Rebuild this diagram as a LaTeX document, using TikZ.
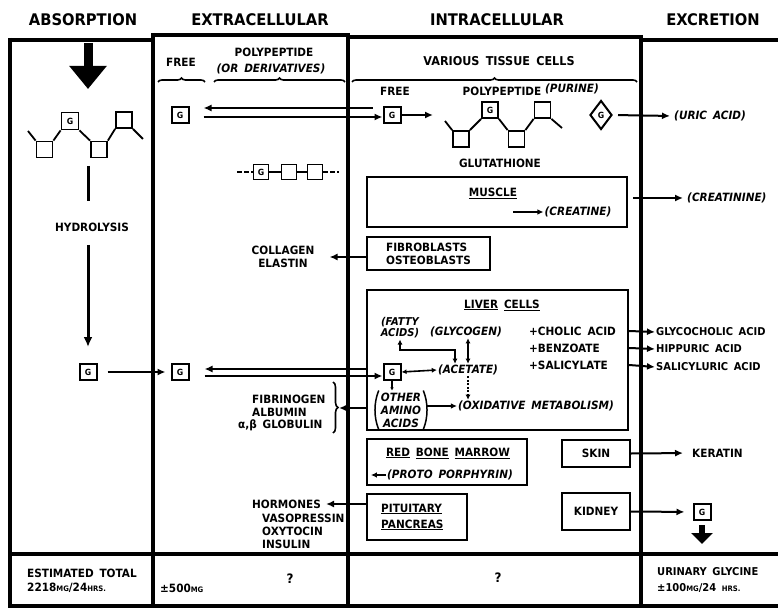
\documentclass[tikz,border=0pt]{standalone}
\usepackage{fontspec}
\setmainfont{DejaVu Sans}[WordSpace=1.6, FakeStretch=0.92]
\usetikzlibrary{arrows.meta,decorations.pathreplacing,shapes.geometric}
\newcommand{\smallcp}[1]{{\fontsize{7.5}{8}\selectfont #1}}
\begin{document}
\begin{tikzpicture}[x=1pt,y=-1pt,
  frm/.style={line width=4pt},
  boxst/.style={draw, line width=2.3pt, inner sep=2pt},
  arr/.style={line width=2pt, -{Latex[length=8pt,width=7pt]}},
  sarr/.style={line width=1.6pt, -{Latex[length=6pt,width=5.5pt]}},
  dbl/.style={line width=1.6pt, {Latex[length=5pt,width=5pt]}-{Latex[length=5pt,width=5pt]}},
  gbox/.style={draw, line width=2pt, minimum width=17pt, minimum height=16pt, inner sep=0pt, font=\fontsize{8.5}{8.5}\selectfont\bfseries},
  sq/.style={draw, line width=1.8pt, minimum size=16pt, inner sep=0pt, font=\fontsize{8.5}{8.5}\selectfont\bfseries},
  chl/.style={line width=1.8pt},
  tx/.style={font=\fontsize{11.4}{13}\selectfont\bfseries, inner sep=1pt},
  itx/.style={font=\fontsize{11.4}{13}\selectfont\bfseries\itshape, inner sep=1pt},
  hd/.style={font=\fontsize{16}{18}\selectfont\bfseries, inner sep=1pt},
  brc/.style={decorate, decoration={brace, amplitude=4pt}, line width=1.6pt},
  bigarr/.style={line width=9pt, -{Triangle[length=23pt,width=36pt]}},
]
\useasboundingbox (0,0) rectangle (778,609);

% headers
\node[hd] (hAbs) at (83,20) {ABSORPTION};
\node[hd] (hExt) at (260,20) {EXTRACELLULAR};
\node[hd] (hInt) at (497,20) {INTRACELLULAR};
\node[hd] (hExc) at (713,20) {EXCRETION};

% frame
\draw[frm] (8,40) -- (153,40);
\draw[frm] (153,35) -- (348,35);
\draw[frm] (348,37) -- (641,37);
\draw[frm] (641,40) -- (778,40);
\draw[frm] (10,38) -- (10,608);
\draw[frm] (153,33) -- (153,608);
\draw[frm] (348,33) -- (348,608);
\draw[frm] (641,35) -- (641,608);
\draw[frm] (8,554) -- (778,554);
\draw[frm] (8,606) -- (778,606);

% ---------- absorption
\coordinate (ab0) at (88,43);
\coordinate (ab1) at (88,89);
\draw[bigarr] (ab0) -- (ab1);
\node[sq] (a1) at (44.5,149.5) {};
\node[sq, minimum size=17pt] (a2) at (70,121) {G};
\node[sq] (a3) at (99,149.5) {};
\node[sq] (a4) at (124,120) {};
\coordinate (a0) at (28,131);
\coordinate (a5) at (143,139);
\draw[chl] (a0) -- (a1.north west) (a1.north east) -- (a2.south west)
  (a2.south east) -- (a3.north west) (a3.north east) -- (a4.south west)
  (a4.south east) -- (a5);
\coordinate (h0) at (88,166);
\coordinate (h1) at (88,201);
\node[tx] (hyd) at (92,227) {HYDROLYSIS};
\coordinate (h2) at (88,245);
\coordinate (h3) at (88,347);
\draw[line width=3pt] (h0) -- (h1);
\draw[line width=3pt, -{Latex[length=10pt,width=9pt]}] (h2) -- (h3);
\node[gbox] (gA) at (88,372) {G};

% ---------- extracellular
\node[tx] (eFree) at (181,62) {FREE};
\node[tx] (ePoly) at (274,52) {POLYPEPTIDE};
\node[itx] (eDer) at (271,69) {(OR DERIVATIVES)};
\coordinate (b1a) at (158,82); \coordinate (b1b) at (205,82);
\coordinate (b2a) at (214,82); \coordinate (b2b) at (345,82);
\draw[brc] (b1a) -- (b1b);
\draw[brc] (b2a) -- (b2b);
\node[gbox] (gE1) at (180,115) {G};
\node[gbox] (gE2) at (180,372) {G};
\draw[arr, shorten <=10pt, shorten >=5pt] (gA.east) -- (gE2.west);

% small polypeptide
\node[sq, minimum size=15pt] (e1) at (261,172) {G};
\node[sq, minimum size=15pt] (e2) at (289,172) {};
\node[sq, minimum size=15pt] (e3) at (315,172) {};
\coordinate (e0) at (237,172);
\coordinate (e4) at (339,172);
\draw[chl, dash pattern=on 5pt off 2pt] (e0) -- (e1.west);
\draw[chl] (e1.east) -- (e2.west) (e2.east) -- (e3.west);
\draw[chl, dash pattern=on 5pt off 2pt] (e3.east) -- (e4);

\node[tx, align=center] (coll) at (283,257) {COLLAGEN\\ELASTIN};
\node[tx, anchor=west] (fibr) at (251,399) {FIBRINOGEN};
\node[tx, anchor=west] (albu) at (251,412) {ALBUMIN};
\node[tx, anchor=west] (glob) at (237,425) {α,β GLOBULIN};
\coordinate (br0) at (333,382);
\coordinate (br1) at (333,433);
\draw[brc, decoration={brace, amplitude=5pt}] (br0) -- (br1);
\coordinate (brTip) at (339,408);
\node[tx, anchor=west] (horm) at (251,504) {HORMONES};
\node[tx, anchor=west, align=left] (hlist) at (261,531) {VASOPRESSIN\\OXYTOCIN\\INSULIN};

% ---------- intracellular
\node[tx, font=\fontsize{12.2}{14}\selectfont\bfseries] (vtc) at (499,61) {VARIOUS TISSUE CELLS};
\coordinate (b3a) at (352,82); \coordinate (b3b) at (637,82);
\draw[brc] (b3a) -- (b3b);
\node[tx] (iFree) at (395,91) {FREE};
\node[tx] (iPoly) at (502,91) {POLYPEPTIDE};
\node[itx] (iPur) at (572,89) {(PURINE)};
\node[gbox] (gI) at (392,115) {G};
\draw[arr] ([xshift=-10pt,yshift=7pt]gI.west) -- ([xshift=14pt,yshift=7pt]gE1.east);
\draw[arr] ([xshift=14pt,yshift=-2pt]gE1.east) -- ([yshift=-2pt]gI.west);
\coordinate (gIt) at (433,115);
\draw[arr] (gI.east) -- (gIt);

% glutathione
\node[sq] (s1) at (461,139) {};
\node[sq] (s2) at (490,110) {G};
\node[sq] (s3) at (516.5,139) {};
\node[sq] (s4) at (542.5,110) {};
\coordinate (s0) at (445,121);
\coordinate (s5) at (562,128);
\draw[chl] (s0) -- (s1.north west) (s1.north east) -- (s2.south west)
  (s2.south east) -- (s3.north west) (s3.north east) -- (s4.south west)
  (s4.south east) -- (s5);
\node[tx] (glut) at (500,163) {GLUTATHIONE};

\node[draw, diamond, line width=2pt, inner sep=0pt, minimum width=22pt, minimum height=29pt, font=\fontsize{8.5}{8.5}\selectfont\bfseries] (pur) at (601,115) {G};
\node[itx, anchor=west] (uric) at (673,116) {(URIC ACID)};
\draw[arr, shorten <=5pt, shorten >=3pt] (pur.east) -- (uric.west);

% muscle
\node[boxst, minimum width=260pt, minimum height=50pt] (muscle) at (497,202) {};
\node[tx] (musc) at (493,193) {\underline{MUSCLE}};
\node[itx] (creat) at (578,212) {(CREATINE)};
\coordinate (cr0) at (513,212);
\draw[sarr] (cr0) -- (creat.west);
\node[itx, anchor=west] (crn) at (686,198) {(CREATININE)};
\draw[arr, shorten <=5pt, shorten >=3pt] (muscle.east |- crn.west) -- (crn.west);

% fibroblasts
\node[boxst, tx, minimum width=123pt, minimum height=33pt, align=left] (fib) at (428.5,253.5) {FIBROBLASTS\\OSTEOBLASTS};
\draw[arr, shorten >=14pt] (fib.west |- coll.east) -- (coll.east);

% liver
\node[boxst, minimum width=261pt, minimum height=140pt] (liver) at (497.5,360) {};
\node[tx] (livt) at (502,305) {\underline{LIVER} \underline{CELLS}};
\node[itx, align=center, font=\fontsize{10.8}{11}\selectfont\bfseries\itshape] (fatty) at (400,328) {(FATTY\\ACIDS)};
\node[itx] (glyc) at (466,332) {(GLYCOGEN)};
\node[gbox] (gL) at (392,372) {G};
\node[itx] (acet) at (468,370) {(ACETATE)};
\node[itx] (oxid) at (536,406) {(OXIDATIVE METABOLISM)};
\node[itx, align=center, inner sep=2pt] (oaa) at (401,410) {OTHER\\AMINO\\ACIDS};
\draw[line width=1.5pt] (oaa.north west) .. controls ([xshift=-5pt,yshift=-12pt]oaa.north west) and ([xshift=-5pt,yshift=12pt]oaa.south west) .. (oaa.south west);
\draw[line width=1.5pt] (oaa.north east) .. controls ([xshift=5pt,yshift=-12pt]oaa.north east) and ([xshift=5pt,yshift=12pt]oaa.south east) .. (oaa.south east);
\draw[arr] ([xshift=-16pt,yshift=3pt]gL.west) -- ([xshift=15pt,yshift=3pt]gE2.east);
\draw[arr] ([xshift=15pt,yshift=-4pt]gE2.east) -- ([yshift=-4pt]gL.west);
\draw[dbl] (gL.east) -- (acet.west);
\draw[dbl] (acet.north |- glyc.south) -- (acet.north);
\coordinate (fa) at (455,350);
\draw[dbl] (fatty.south) |- (fa) -- (fa |- acet.north);
\draw[line width=1.5pt, dash pattern=on 2pt off 1.5pt, -{Latex[length=5pt,width=5pt]}] (acet.south) -- (acet.south |- oxid.north);
\draw[line width=1.3pt, -{Latex[length=3pt,width=3.5pt]}] (gL.south) -- (gL.south |- oaa.north);
\draw[sarr] ([xshift=4pt]oaa.east |- oxid.west) -- (oxid.west);
\draw[arr] (liver.west |- brTip) -- (brTip);

\node[tx, anchor=west] (chol) at (528,331) {+CHOLIC ACID};
\node[tx, anchor=west] (benz) at (528,348) {+BENZOATE};
\node[tx, anchor=west] (sali) at (528,365) {+SALICYLATE};
\node[tx, anchor=west, font=\fontsize{10.8}{12}\selectfont\bfseries] (glyco) at (655,332) {GLYCOCHOLIC ACID};
\node[tx, anchor=west, font=\fontsize{10.8}{12}\selectfont\bfseries] (hipp) at (655,349) {HIPPURIC ACID};
\node[tx, anchor=west, font=\fontsize{10.8}{12}\selectfont\bfseries] (salu) at (655,367) {SALICYLURIC ACID};
\draw[arr] (liver.east |- chol) -- (glyco.west);
\draw[arr] (liver.east |- benz) -- (hipp.west);
\draw[arr] (liver.east |- sali) -- (salu.west);

% red bone marrow
\node[boxst, minimum width=160pt, minimum height=46pt] (rbm) at (447,462) {};
\node[tx] (rbmt) at (448,453) {\underline{RED} \underline{BONE} \underline{MARROW}};
\node[itx] (proto) at (450,475) {(PROTO PORPHYRIN)};
\draw[sarr, shorten >=5pt] (proto.west) -- (rbm.west |- proto.west);

% pituitary
\node[boxst, minimum width=100pt, minimum height=46pt] (pit) at (417,517) {};
\node[tx, anchor=west, align=left] (pitt) at (380,517) {\underline{PITUITARY}\\[3pt]\underline{PANCREAS}};
\draw[arr, shorten >=4pt] (pit.west |- horm.east) -- (horm.east);

% skin, kidney
\node[boxst, tx, minimum width=68pt, minimum height=27pt] (skin) at (596,453.5) {SKIN};
\node[tx, anchor=west] (ker) at (691,453) {KERATIN};
\draw[arr, shorten >=8pt] (skin.east) -- (ker.west);
\node[boxst, tx, minimum width=68pt, minimum height=37pt] (kid) at (596,511.5) {KIDNEY};
\node[gbox] (gK) at (702,512) {G};
\draw[arr, shorten >=8pt] (kid.east) -- (gK.west);
\coordinate (kd) at (702,544);
\draw[line width=6pt, -{Triangle[length=11pt,width=21pt]}] ([yshift=-4pt]gK.south) -- (kd);

% bottom row
\node[tx, anchor=west] (est1) at (26,573) {ESTIMATED TOTAL};
\node[tx, anchor=west] (est2) at (26,588) {2218\smallcp{MG}/24\smallcp{HRS.}};
\node[tx, anchor=west] (ext500) at (159,588) {±500\smallcp{MG}};
\node[tx, font=\fontsize{13}{14}\selectfont\bfseries] (q1) at (290,579) {?};
\node[tx, font=\fontsize{13}{14}\selectfont\bfseries] (q2) at (498,578) {?};
\node[tx, anchor=west, font=\fontsize{10.8}{12}\selectfont\bfseries] (ur1) at (656,572) {URINARY GLYCINE};
\node[tx, anchor=west, font=\fontsize{10.8}{12}\selectfont\bfseries] (ur2) at (656,588) {±100\smallcp{MG}/24 \smallcp{HRS.}};
\end{tikzpicture}
\end{document}
